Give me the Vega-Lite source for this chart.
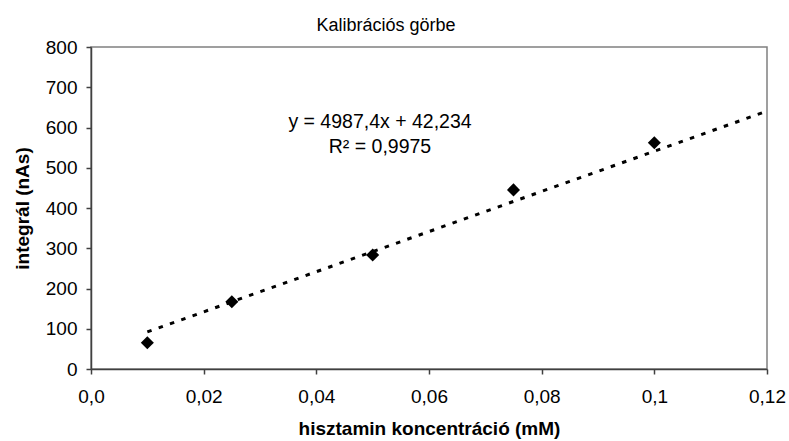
{
  "$schema": "https://vega.github.io/schema/vega-lite/v6.json",
  "width": 676,
  "height": 322,
  "autosize": {"type": "none"},
  "padding": {"left": 91, "top": 47, "right": 22, "bottom": 72},
  "background": "white",
  "title": {
    "text": "Kalibrációs görbe",
    "font": "Liberation Sans",
    "fontSize": 18,
    "fontWeight": "normal",
    "color": "#000000",
    "anchor": "middle",
    "dx": -43,
    "offset": 3
  },
  "config": {
    "view": {"stroke": "#808080", "strokeWidth": 1.5},
    "axis": {
      "labelFont": "Liberation Sans",
      "labelFontSize": 19,
      "labelColor": "#000000",
      "titleFont": "Liberation Sans",
      "titleFontSize": 19,
      "titleFontWeight": "bold",
      "titleColor": "#000000",
      "domainColor": "#404040",
      "domainWidth": 1.5,
      "tickColor": "#404040",
      "tickWidth": 1.5,
      "tickSize": 5,
      "grid": false
    }
  },
  "datasets": {
    "points": [
      {"c": 0.01, "v": 65},
      {"c": 0.025, "v": 167},
      {"c": 0.05, "v": 283},
      {"c": 0.075, "v": 445},
      {"c": 0.1, "v": 562}
    ],
    "trend": [
      {"c": 0.01, "v": 92.1},
      {"c": 0.12, "v": 640.7}
    ],
    "note": [
      {"c": 0.0513, "v": 614, "t": "y = 4987,4x + 42,234"},
      {"c": 0.0513, "v": 552, "t": "R² = 0,9975"}
    ]
  },
  "layer": [
    {
      "data": {"name": "trend"},
      "mark": {"type": "line", "color": "#000000", "strokeWidth": 3, "strokeDash": [4.5, 7.5], "clip": true},
      "encoding": {
        "x": {
          "field": "c", "type": "quantitative",
          "scale": {"domain": [0, 0.12], "nice": false, "zero": false},
          "axis": {
            "title": "hisztamin koncentráció (mM)",
            "values": [0, 0.02, 0.04, 0.06, 0.08, 0.1, 0.12],
            "labelExpr": "datum.value == 0 ? '0,0' : replace(format(datum.value, '~g'), '.', ',')",
            "labelPadding": 13,
            "titlePadding": 13,
            "labelFlush": false
          }
        },
        "y": {
          "field": "v", "type": "quantitative",
          "scale": {"domain": [0, 800], "nice": false},
          "axis": {
            "title": "integrál (nAs)",
            "values": [0, 100, 200, 300, 400, 500, 600, 700, 800],
            "labelPadding": 9,
            "titlePadding": 13,
            "labelFlush": false
          }
        }
      }
    },
    {
      "data": {"name": "points"},
      "mark": {"type": "point", "shape": "diamond", "filled": true, "color": "#000000", "size": 170, "opacity": 1},
      "encoding": {
        "x": {"field": "c", "type": "quantitative"},
        "y": {"field": "v", "type": "quantitative"}
      }
    },
    {
      "data": {"name": "note"},
      "mark": {"type": "text", "font": "Liberation Sans", "fontSize": 19.5, "color": "#000000", "align": "center", "baseline": "middle"},
      "encoding": {
        "x": {"field": "c", "type": "quantitative"},
        "y": {"field": "v", "type": "quantitative"},
        "text": {"field": "t"}
      }
    }
  ]
}
